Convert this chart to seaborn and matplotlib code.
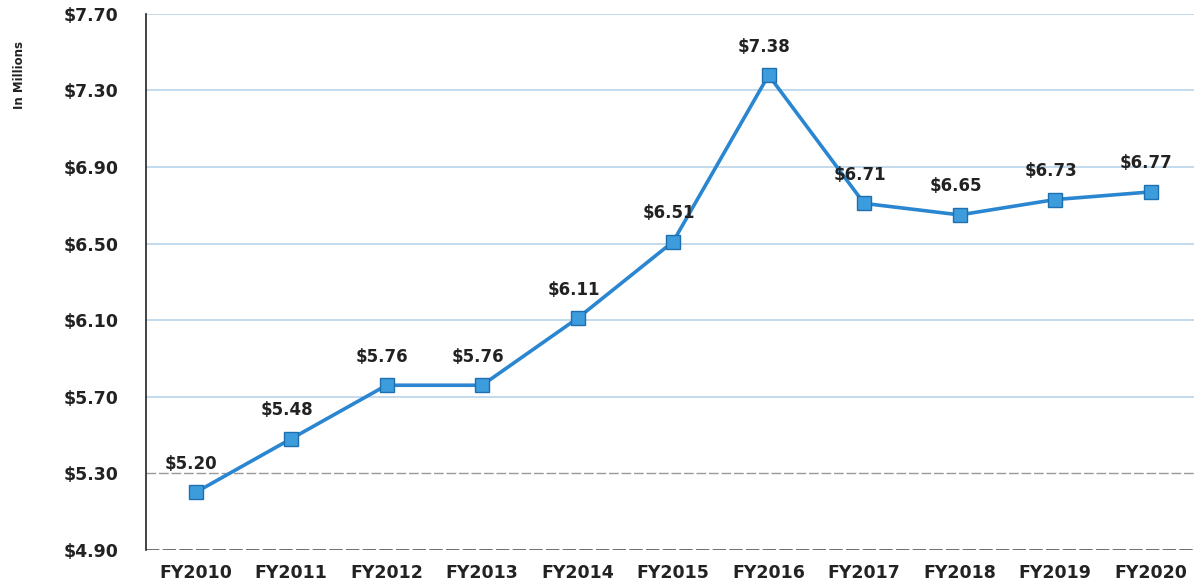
import matplotlib
matplotlib.use("Agg")
import matplotlib.pyplot as plt
import seaborn as sns

# ==========================
# Data
# ==========================

years = ["FY2010", "FY2011", "FY2012", "FY2013", "FY2014", "FY2015",
         "FY2016", "FY2017", "FY2018", "FY2019", "FY2020"]
values = [5.20, 5.48, 5.76, 5.76, 6.11, 6.51, 7.38, 6.71, 6.65, 6.73, 6.77]
y_ticks = [4.90, 5.30, 5.70, 6.10, 6.50, 6.90, 7.30, 7.70]

# ==========================
# Plot
# ==========================

sns.set_style("white")
plt.rcParams["font.family"] = ["DejaVu Sans"]

fig = plt.figure(figsize=(11.96, 5.8), dpi=100)
ax = fig.add_axes([0.122, 0.052, 0.876, 0.924])

for t in y_ticks[2:]:
    ax.axhline(t, color="#b9d3ea", linewidth=1.2, zorder=0)
# lower grid lines come out dashed grey in the original
ax.axhline(y_ticks[1], color="#9a9a9a", linewidth=1.0, linestyle=(0, (7, 2)), zorder=0)
ax.axhline(y_ticks[0], color="#555555", linewidth=1.2, linestyle=(0, (8, 2)), zorder=0)

sns.lineplot(x=years, y=values, sort=False, ax=ax, color="#2a86d0",
             linewidth=2.6, marker="s", markersize=10,
             markerfacecolor="#3d9ddc", markeredgecolor="#1f6fb0",
             markeredgewidth=1)

for i, v in enumerate(values):
    ax.annotate(f"${v:.2f}", (i, v), xytext=(-3, 14), textcoords="offset points",
                ha="center", va="bottom", fontsize=12, fontweight="bold",
                color="#222222")

ax.set_xlim(-0.52, 10.45)
ax.set_ylim(4.90, 7.70)
ax.set_yticks(y_ticks)
ax.set_yticklabels([f"${t:.2f}" for t in y_ticks], fontsize=12.5, fontweight="bold")
ax.set_xticks(range(len(years)))
ax.set_xticklabels(years, fontsize=12.5, fontweight="bold")
ax.tick_params(axis="both", length=0, colors="#222222")
ax.tick_params(axis="y", pad=20)
ax.tick_params(axis="x", pad=10)
ax.set_xlabel("")
ax.set_ylabel("")

for s in ["top", "right", "bottom"]:
    ax.spines[s].set_visible(False)
ax.spines["left"].set_color("#222222")
ax.spines["left"].set_linewidth(1.2)

fig.text(0.016, 0.87, "In Millions", rotation=90, ha="center", va="center",
         fontsize=8.5, fontweight="bold", color="#222222")

fig.savefig("out.png", dpi=100)
